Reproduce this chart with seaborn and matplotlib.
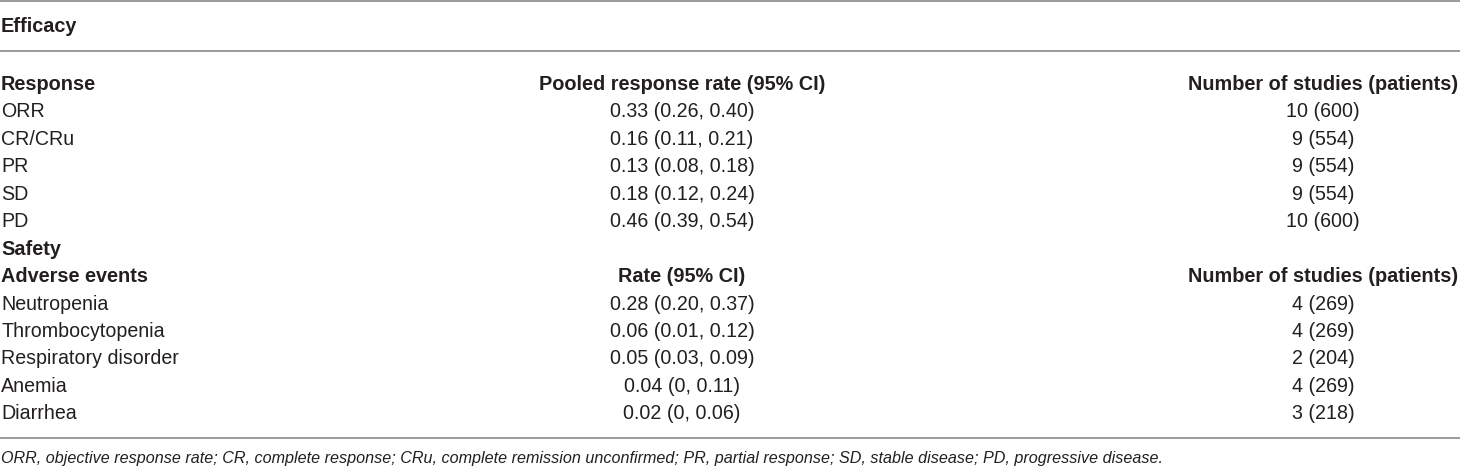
import matplotlib
matplotlib.use("Agg")
import matplotlib.pyplot as plt
import seaborn as sns

# Table contents
response_labels = ["ORR", "CR/CRu", "PR", "SD", "PD"]
response_rates = ["0.33 (0.26, 0.40)", "0.16 (0.11, 0.21)", "0.13 (0.08, 0.18)",
                  "0.18 (0.12, 0.24)", "0.46 (0.39, 0.54)"]
response_studies = ["10 (600)", "9 (554)", "9 (554)", "9 (554)", "10 (600)"]

ae_labels = ["Neutropenia", "Thrombocytopenia", "Respiratory disorder", "Anemia", "Diarrhea"]
ae_rates = ["0.28 (0.20, 0.37)", "0.06 (0.01, 0.12)", "0.05 (0.03, 0.09)",
            "0.04 (0, 0.11)", "0.02 (0, 0.06)"]
ae_studies = ["4 (269)", "4 (269)", "2 (204)", "4 (269)", "3 (218)"]

footnote = ("ORR, objective response rate; CR, complete response; CRu, complete remission "
            "unconfirmed; PR, partial response; SD, stable disease; PD, progressive disease.")

sns.set_theme(style="white")
plt.rcParams['font.family'] = ['Liberation Sans', 'DejaVu Sans']

W, H = 1460, 468
fig = plt.figure(figsize=(W / 100, H / 100), dpi=100)
ax = fig.add_axes([0, 0, 1, 1])
ax.set_xlim(0, W)
ax.set_ylim(H, 0)
ax.axis("off")

txt = "#231f20"
fs = 14.1       # body text
fs_head = 14.3  # bold headers
fs_note = 11.6  # footnote
rule = "#9a9a9a"

# horizontal rules
for y in [0.8, 50.5, 437.5]:
    ax.axhline(y, color=rule, lw=1.4)

ax.text(1, 26, "Efficacy", fontsize=fs_head, fontweight="bold", color=txt, va="center")

# rows: header, 5 responses, section title, header, 5 adverse events
rows = [("Response", "Pooled response rate (95% CI)", "Number of studies (patients)", "head")]
rows += [(a, b, c, "body") for a, b, c in zip(response_labels, response_rates, response_studies)]
rows += [("Safety", "", "", "head")]
rows += [("Adverse events", "Rate (95% CI)", "Number of studies (patients)", "head")]
rows += [(a, b, c, "body") for a, b, c in zip(ae_labels, ae_rates, ae_studies)]

y0, pitch = 84.5, 27.45
mid_x, right_x = 682, 1323
for i, (a, b, c, kind) in enumerate(rows):
    y = y0 + i * pitch
    head = kind == "head"
    size = fs_head if head else fs
    weight = "bold" if head else "normal"
    ax.text(1, y, a, fontsize=size, fontweight=weight, color=txt, va="center")
    ax.text(mid_x, y, b, fontsize=size, fontweight=weight, color=txt, va="center", ha="center")
    ax.text(right_x, y, c, fontsize=size, fontweight=weight, color=txt, va="center", ha="center")

ax.text(1, 458, footnote, fontsize=fs_note, fontstyle="italic", color=txt, va="center")

fig.savefig("out.png", dpi=100)
